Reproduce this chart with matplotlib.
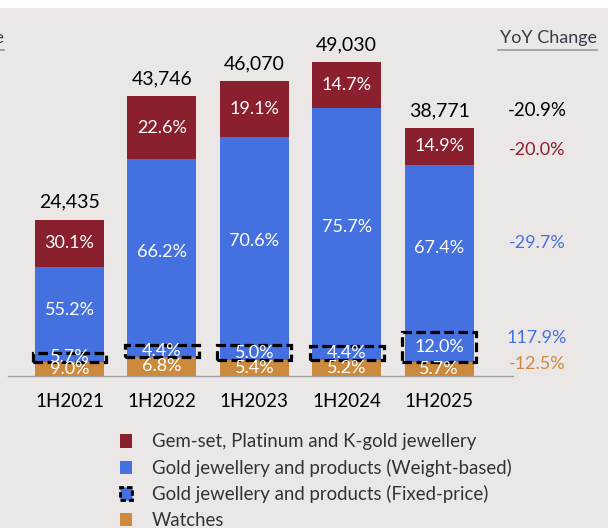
import matplotlib
matplotlib.use("Agg")
import matplotlib.pyplot as plt
from matplotlib.patches import Patch, Rectangle
import numpy as np

plt.rcParams["font.family"] = ["Lato", "DejaVu Sans"]

# data
periodos = ["1H2021", "1H2022", "1H2023", "1H2024", "1H2025"]
totais = [24435, 43746, 46070, 49030, 38771]
pct_relogios = [9.0, 6.8, 5.4, 5.2, 5.7]
pct_preco_fixo = [5.7, 4.4, 5.0, 4.4, 12.0]
pct_peso = [55.2, 66.2, 70.6, 75.7, 67.4]
pct_gema = [30.1, 22.6, 19.1, 14.7, 14.9]
yoy_total = "-20.9%"
yoy_segmentos = ["-20.0%", "-29.7%", "117.9%", "-12.5%"]  # gem, weight, fixed, watches

series = ["Gem-set, Platinum and K-gold jewellery",
          "Gold jewellery and products (Weight-based)",
          "Gold jewellery and products (Fixed-price)",
          "Watches"]

COR_BG = "#ebe7e6"
COR_GEMA = "#8a1f2e"
COR_AZUL = "#4571e0"
COR_LARANJA = "#cc8a3c"

fig = plt.figure(figsize=(6.08, 5.28), dpi=100)
fig.patch.set_facecolor(COR_BG)
fig.patches.append(Rectangle((0, 1 - 8 / 528), 1, 8 / 528, transform=fig.transFigure,
                             facecolor="white", edgecolor="none", zorder=0))

ax = fig.add_axes([8 / 608, (528 - 376) / 528, (513 - 8) / 608, (376 - 8) / 528])
ax.set_facecolor(COR_BG)

x = np.arange(len(periodos))
tot = np.array(totais, dtype=float)
v_rel = tot * np.array(pct_relogios) / 100
v_fix = tot * np.array(pct_preco_fixo) / 100
v_peso = tot * np.array(pct_peso) / 100
v_gema = tot * np.array(pct_gema) / 100
# the segments are scaled so they stack up to the total
soma = v_rel + v_fix + v_peso + v_gema
fator = tot / soma
v_rel, v_fix, v_peso, v_gema = v_rel * fator, v_fix * fator, v_peso * fator, v_gema * fator

w = 0.747
b0 = np.zeros(len(x))
b1 = b0 + v_rel
b2 = b1 + v_fix
b3 = b2 + v_peso

ax.bar(x, v_rel, w, bottom=b0, color=COR_LARANJA, zorder=2)
ax.bar(x, v_fix, w, bottom=b1, color=COR_AZUL, zorder=2)
ax.bar(x, v_peso, w, bottom=b2, color=COR_AZUL, zorder=2)
ax.bar(x, v_gema, w, bottom=b3, color=COR_GEMA, zorder=2)
# dashed outline for the fixed-price part
ax.bar(x, v_fix, 0.80, bottom=b1, fill=False, edgecolor="black", linewidth=2.3,
       linestyle=(0, (3, 1.4)), zorder=3)

def rotulo(xx, yy, txt):
    ax.text(xx, yy, txt, ha="center", va="center", color="white", fontsize=13, zorder=5)

for i in range(len(x)):
    rotulo(x[i], b0[i] + v_rel[i] / 2, f"{pct_relogios[i]:.1f}%")
    rotulo(x[i], b1[i] + v_fix[i] / 2, f"{pct_preco_fixo[i]:.1f}%")
    rotulo(x[i], b2[i] + v_peso[i] / 2, f"{pct_peso[i]:.1f}%")
    rotulo(x[i], b3[i] + v_gema[i] / 2, f"{pct_gema[i]:.1f}%")
    ax.annotate(f"{totais[i]:,}", (x[i], tot[i]), xytext=(0, 12.5), textcoords="offset points",
                ha="center", va="center", fontsize=14, color="black")

# YoY column at the right
xy = 5.06
ult = len(x) - 1
ax.annotate(yoy_total, (xy, tot[ult]), xytext=(0, 12.5), textcoords="offset points",
            ha="center", va="center", fontsize=13.5, color="black", annotation_clip=False)
centros = [b3[ult] + v_gema[ult] / 2, b2[ult] + v_peso[ult] / 2,
           b1[ult] + v_fix[ult] / 2, b0[ult] + v_rel[ult] / 2]
cores_yoy = [COR_GEMA, COR_AZUL, COR_AZUL, COR_LARANJA]
desloc = [-2.5, 4, 6.5, 3.5]
for txt, cy, c, d in zip(yoy_segmentos, centros, cores_yoy, desloc):
    ax.annotate(txt, (xy, cy), xytext=(0, d), textcoords="offset points",
                ha="center", va="center", fontsize=13, color=c, annotation_clip=False)

ax.set_xlim(-0.666, 4.80)
ax.set_ylim(0, 57500)
for s in ["top", "right", "left"]:
    ax.spines[s].set_visible(False)
ax.spines["bottom"].set_color("#a0a0a0")
ax.spines["bottom"].set_linewidth(1.0)
ax.spines["bottom"].set_zorder(4)
ax.set_yticks([])
ax.set_xticks(x)
ax.set_xticklabels(periodos, fontsize=13.5, color="black")
ax.tick_params(axis="x", length=0, pad=12)

# headers
fig.text(548 / 608, 1 - 38 / 528, "YoY Change", ha="center", va="center", fontsize=13, color="#3a3a48")
fig.add_artist(plt.Line2D([498 / 608, 597 / 608], [1 - 50 / 528, 1 - 50 / 528],
                          transform=fig.transFigure, color="#9a9a9a", lw=1.2))
fig.text(4 / 608, 1 - 38 / 528, "Revenue", ha="right", va="center", fontsize=13, color="#3a3a48")
fig.add_artist(plt.Line2D([0, 4 / 608], [1 - 50 / 528, 1 - 50 / 528],
                          transform=fig.transFigure, color="#9a9a9a", lw=1.2))

# legend
handles = [
    Patch(facecolor=COR_GEMA, edgecolor="none"),
    Patch(facecolor=COR_AZUL, edgecolor="none"),
    Patch(facecolor=COR_AZUL, edgecolor="black", linewidth=2.0, linestyle=(0, (2, 1))),
    Patch(facecolor=COR_LARANJA, edgecolor="none"),
]
leg = fig.legend(handles, series, loc="upper left", bbox_to_anchor=(120 / 608, 1 - 433.5 / 528),
                 frameon=False, fontsize=13.4, handlelength=0.62, handleheight=0.7,
                 handletextpad=1.1, labelspacing=0.45, borderaxespad=0, borderpad=0)
for t in leg.get_texts():
    t.set_color("#333333")

fig.savefig("out.png", dpi=100, facecolor=fig.get_facecolor())
